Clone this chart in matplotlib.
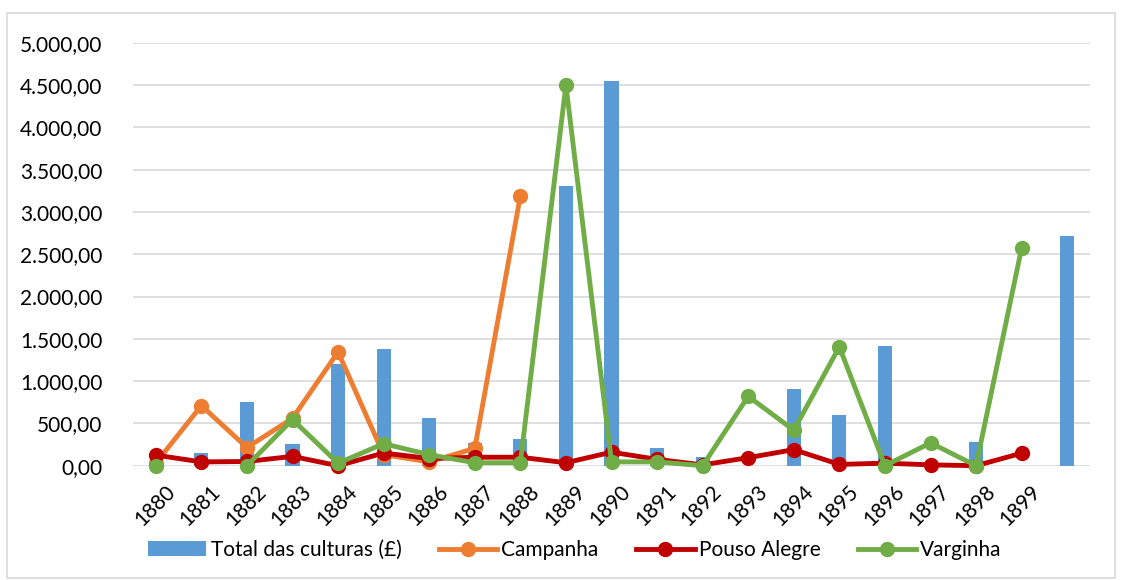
import numpy as np
import matplotlib
matplotlib.use("Agg")
import matplotlib.pyplot as plt
from matplotlib.ticker import FuncFormatter, MultipleLocator
from matplotlib.patches import Rectangle
from matplotlib.transforms import ScaledTranslation

nan = np.nan
years = [str(y) for y in range(1880, 1900)] + [""]
total = [nan, 153, 751, 252, 1207, 1375, 559, 264, 315, 3308, 4548, 205, 99, nan, 904, 598, 1413, nan, 276, nan, 2720]
campanha = [30, 710, 215, 560, 1345, 130, 45, 205, 3190, nan, nan, nan, nan, nan, nan, nan, nan, nan, nan, nan, nan]
pouso_alegre = [125, 45, 50, 110, 0, 150, 85, 100, 100, 35, 160, 75, 10, 95, 190, 15, 30, 10, 0, 148, nan]
varginha = [0, nan, 0, 545, 30, 260, 130, 35, 35, 4500, 45, 45, 0, 820, 420, 1405, 0, 270, 0, 2575, nan]

plt.rcParams['font.family'] = ['Lato', 'DejaVu Sans']

W, H = 1123, 580
fig = plt.figure(figsize=(W / 100, H / 100), dpi=100)
ax = fig.add_axes([133 / W, (H - 465.7) / H, (1090 - 133) / W, (465.7 - 42.7) / H])

x = np.arange(len(years))
bars = ax.bar(x, total, width=0.31, color='#5B9BD5', label='Total das culturas (£)', zorder=2)
lw = 3.5
ms = 10
l1, = ax.plot(x, campanha, color='#ED7D31', lw=lw, marker='o', ms=ms, label='Campanha', zorder=3, clip_on=False)
l2, = ax.plot(x, pouso_alegre, color='#C00000', lw=lw, marker='o', ms=ms, label='Pouso Alegre', zorder=4, clip_on=False)
l3, = ax.plot(x, varginha, color='#70AD47', lw=lw, marker='o', ms=ms, label='Varginha', zorder=5, clip_on=False)

ax.set_xlim(-0.5, len(years) - 0.5)
ax.set_ylim(0, 5000)
ax.yaxis.set_major_locator(MultipleLocator(500))

def fmt(v, pos):
    s = f"{v:,.2f}"
    return s.replace(",", "X").replace(".", ",").replace("X", ".")

ax.yaxis.set_major_formatter(FuncFormatter(fmt))
ax.grid(axis='y', color='#D9D9D9', lw=1.2, zorder=0)
ax.set_axisbelow(True)
for s in ax.spines.values():
    s.set_visible(False)
ax.tick_params(axis='both', length=0, labelsize=15, colors='#000000')
ax.tick_params(axis='y', pad=22)
ax.set_xticks(x)
ax.set_xticklabels(years, rotation=45, ha='right', rotation_mode='anchor')
ax.tick_params(axis='x', pad=10)
off = ScaledTranslation(9 / 100, -2 / 100, fig.dpi_scale_trans)
for t in ax.get_xticklabels():
    t.set_transform(t.get_transform() + off)

leg = fig.legend([bars, l1, l2, l3], ['Total das culturas (£)', 'Campanha', 'Pouso Alegre', 'Varginha'],
                 loc='center', bbox_to_anchor=(575 / W, (H - 550) / H), ncol=4, frameon=False,
                 fontsize=15, handlelength=2.8, handletextpad=0.2, columnspacing=1.8)

fig.patches.append(Rectangle((7 / W, 2 / H), (1115 - 7) / W, (567 - 2) / H, transform=fig.transFigure,
                             fill=False, edgecolor='#D9D9D9', lw=1.2))

fig.savefig('out.png', dpi=100)
